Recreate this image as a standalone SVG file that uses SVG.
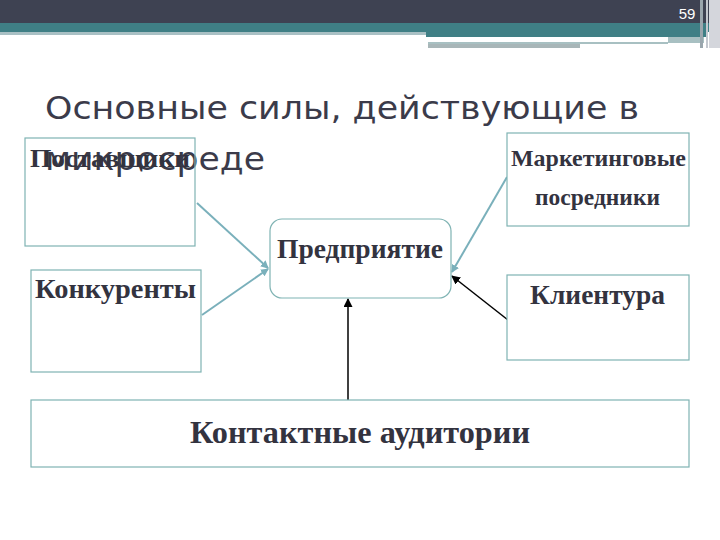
<svg xmlns="http://www.w3.org/2000/svg" width="720" height="540" viewBox="0 0 720 540">
<defs>
<style>
.title{font-family:"DejaVu Sans","Open Sans",sans-serif;font-size:32px;fill:#3b3b4a}
.lbl{font-family:"Liberation Serif","Times New Roman",serif;font-weight:bold;fill:#33333f}
.box{fill:#fff;stroke:#7fb3b3;stroke-width:1.2}
.tc{stroke:#7ab0bb;stroke-width:2;fill:none}
.bk{stroke:#000;stroke-width:1.5;fill:none}
</style>
<marker id="at" markerWidth="8" markerHeight="8" refX="7" refY="4" orient="auto" markerUnits="userSpaceOnUse"><path d="M0,0 L8,4 L0,8 z" fill="#7ab0bb"/></marker>
<marker id="ab" markerWidth="9" markerHeight="9" refX="8" refY="4.5" orient="auto" markerUnits="userSpaceOnUse"><path d="M0,0 L9,4.5 L0,9 z" fill="#000"/></marker>
</defs>
<rect width="720" height="540" fill="#fff"/>
<g id="header">
<rect x="0" y="0" width="720" height="23" fill="#3e4252"/>
<rect x="0" y="23" width="720" height="9" fill="#3f7f85"/>
<rect x="0" y="32" width="426" height="3" fill="#a9c0c4"/>
<rect x="426" y="32" width="280" height="5" fill="#3f7f85"/>
<rect x="428" y="38" width="240" height="3" fill="#fff"/>
<rect x="668" y="37" width="36" height="6" fill="#a8c0c2"/>
<rect x="428" y="42" width="240" height="2" fill="#a8c0c2"/>
<rect x="428" y="44" width="152" height="4" fill="#a8b6b8"/>
<rect x="700" y="0" width="3" height="48" fill="#9aa6ad"/>
<rect x="706" y="0" width="2" height="48" fill="#c4c8cf"/>
<rect x="709" y="0" width="11" height="48" fill="#d4d6dc"/>
<text x="687" y="19" text-anchor="middle" font-family="Liberation Sans, Arial, sans-serif" font-size="15" fill="#fff">59</text>
</g>
<g id="title">
<text class="title" x="45" y="119" textLength="594" lengthAdjust="spacingAndGlyphs">Основные силы, действующие в</text>
<text class="title" x="45" y="170" textLength="220" lengthAdjust="spacingAndGlyphs">микросреде</text>
</g>
<g id="connectors">
<line class="tc" x1="197" y1="203" x2="268" y2="268" marker-end="url(#at)"/>
<line class="tc" x1="202" y1="315" x2="268" y2="269" marker-end="url(#at)"/>
<line class="tc" x1="507" y1="177" x2="452" y2="272" marker-end="url(#at)"/>
<line class="bk" x1="508" y1="320" x2="452" y2="276" marker-end="url(#ab)"/>
<line class="bk" x1="348" y1="400" x2="348" y2="299" marker-end="url(#ab)"/>
</g>
<g id="n-postavshchiki">
<rect class="box" x="25" y="138" width="170" height="108" fill-opacity="0"/>
<text class="lbl" x="30" y="167" font-size="26" textLength="160" lengthAdjust="spacingAndGlyphs">Поставщики</text>
</g>
<g id="n-posredniki">
<rect class="box" x="507" y="133" width="182" height="93"/>
<text class="lbl" x="511" y="166" font-size="23" textLength="175" lengthAdjust="spacingAndGlyphs">Маркетинговые</text>
<text class="lbl" x="535" y="205" font-size="23" textLength="125" lengthAdjust="spacingAndGlyphs">посредники</text>
</g>
<g id="n-predpriyatie">
<rect class="box" x="270" y="219" width="181" height="79" rx="12"/>
<text class="lbl" x="277" y="258" font-size="27" textLength="166" lengthAdjust="spacingAndGlyphs">Предприятие</text>
</g>
<g id="n-konkurenty">
<rect class="box" x="31" y="270" width="170" height="102"/>
<text class="lbl" x="35" y="298" font-size="27" textLength="161" lengthAdjust="spacingAndGlyphs">Конкуренты</text>
</g>
<g id="n-klientura">
<rect class="box" x="507" y="275" width="182" height="85"/>
<text class="lbl" x="530" y="304" font-size="28" textLength="135" lengthAdjust="spacingAndGlyphs">Клиентура</text>
</g>
<g id="n-auditorii">
<rect class="box" x="31" y="400" width="658" height="67"/>
<text class="lbl" x="190" y="443" font-size="32" textLength="340" lengthAdjust="spacingAndGlyphs">Контактные аудитории</text>
</g>
</svg>
